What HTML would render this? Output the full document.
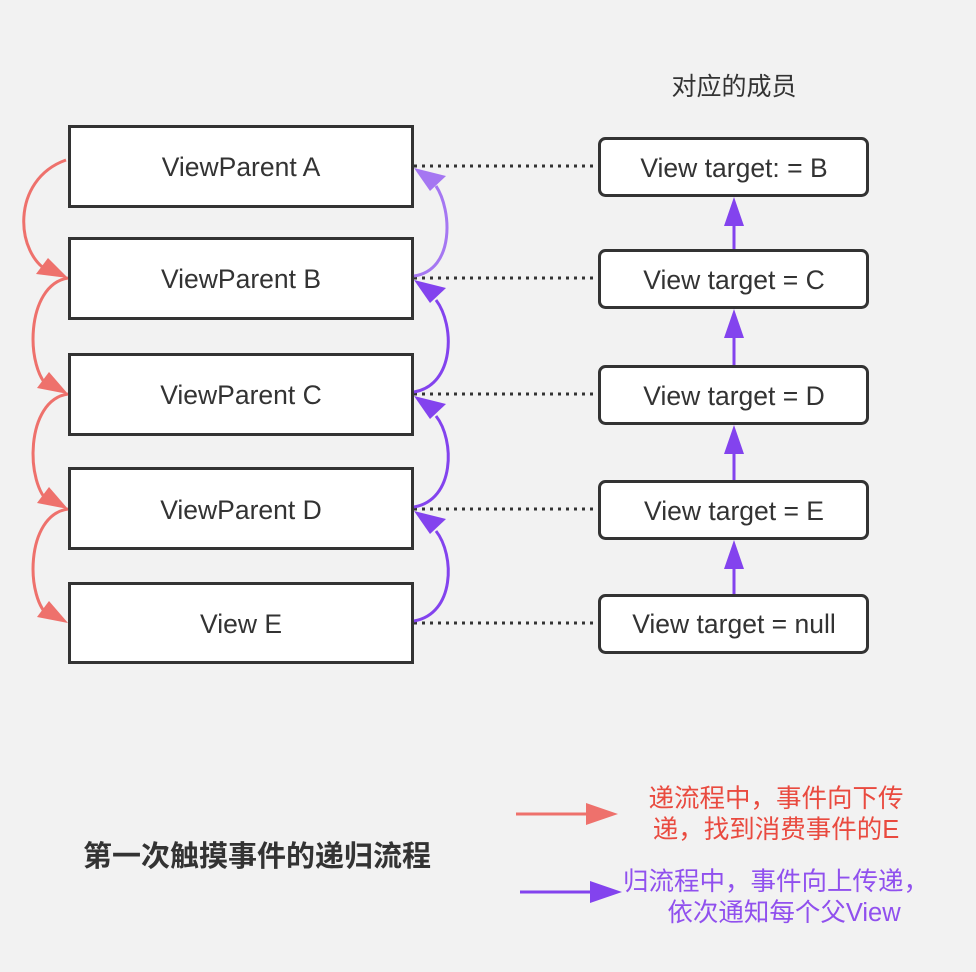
<!DOCTYPE html>
<html><head><meta charset="utf-8"><style>
body{margin:0;background:#f2f2f2;}
svg{display:block}
text{font-family:"Liberation Sans","Noto Sans CJK SC",sans-serif;}
</style></head><body>
<svg width="976" height="972" viewBox="0 0 976 972" xmlns="http://www.w3.org/2000/svg">
<rect width="976" height="972" fill="#f2f2f2"/>
<g stroke="#333" stroke-width="3" stroke-dasharray="3,5">
<line x1="414" y1="166" x2="598" y2="166"/>
<line x1="414" y1="278" x2="598" y2="278"/>
<line x1="414" y1="394" x2="598" y2="394"/>
<line x1="414" y1="509" x2="598" y2="509"/>
<line x1="414" y1="623" x2="598" y2="623"/>
</g>
<g fill="#fff" stroke="#333" stroke-width="3">
<rect x="69.5" y="126.5" width="343" height="80"/>
<rect x="69.5" y="238.5" width="343" height="80"/>
<rect x="69.5" y="354.5" width="343" height="80"/>
<rect x="69.5" y="468.5" width="343" height="80"/>
<rect x="69.5" y="583.5" width="343" height="79"/>
<rect x="599.5" y="138.5" width="268" height="57" rx="6"/>
<rect x="599.5" y="250.5" width="268" height="57" rx="6"/>
<rect x="599.5" y="366.5" width="268" height="57" rx="6"/>
<rect x="599.5" y="481.5" width="268" height="57" rx="6"/>
<rect x="599.5" y="595.5" width="268" height="57" rx="6"/>
</g>
<g font-size="26.5" fill="#333" text-anchor="middle">
<text x="241" y="176">ViewParent A</text>
<text x="241" y="288">ViewParent B</text>
<text x="241" y="404">ViewParent C</text>
<text x="241" y="519">ViewParent D</text>
<text x="241" y="633">View E</text>
<text x="734" y="177">View target: = B</text>
<text x="734" y="289">View target = C</text>
<text x="734" y="405">View target = D</text>
<text x="734" y="520">View target = E</text>
<text x="734" y="633">View target = null</text>
<text x="734" y="95" font-size="25">对应的成员</text>
</g>
<g fill="none" stroke="#ee716c" stroke-width="3">
<path d="M66,160 C10,180 15,255 50,272"/>
<path d="M68,278 C25,285 25,370 50,388"/>
<path d="M68,394 C25,400 25,485 50,503"/>
<path d="M68,509 C25,515 25,600 50,617"/>
</g>
<g fill="#ee716c">
<polygon points="68,278 36,274 48,258"/>
<polygon points="68,394 37,388 49,372"/>
<polygon points="68,509 37,503 49,487"/>
<polygon points="68,623 37,617 49,601"/>
</g>
<g fill="none" stroke-width="3">
<path d="M414,276 C455,270 452,210 436,186" stroke="#a577f2"/>
<path d="M414,392 C455,385 455,325 436,300" stroke="#8343ee"/>
<path d="M414,507 C455,500 455,440 436,416" stroke="#8343ee"/>
<path d="M414,621 C455,614 455,555 436,531" stroke="#8343ee"/>
</g>
<polygon points="414,168 446,176 430,191" fill="#a577f2"/>
<g fill="#8343ee">
<polygon points="414,280 446,288 430,303"/>
<polygon points="414,396 446,404 430,419"/>
<polygon points="414,511 446,519 430,534"/>
</g>
<g stroke="#8343ee" stroke-width="3">
<line x1="734" y1="249" x2="734" y2="220"/>
<line x1="734" y1="365" x2="734" y2="335"/>
<line x1="734" y1="480" x2="734" y2="450"/>
<line x1="734" y1="594" x2="734" y2="565"/>
</g>
<g fill="#8343ee">
<polygon points="734,197 724,226 744,226"/>
<polygon points="734,309 724,338 744,338"/>
<polygon points="734,425 724,454 744,454"/>
<polygon points="734,540 724,569 744,569"/>
</g>
<line x1="516" y1="814" x2="590" y2="814" stroke="#ee716c" stroke-width="3"/>
<polygon points="618,814 586,803 586,825" fill="#ee716c"/>
<line x1="520" y1="892" x2="595" y2="892" stroke="#8343ee" stroke-width="3"/>
<polygon points="622,892 590,881 590,903" fill="#8343ee"/>
<g font-size="25.5" text-anchor="middle">
<text x="776" y="807" fill="#e94a3f">递流程中，事件向下传</text>
<text x="776" y="838" fill="#e94a3f">递，找到消费事件的E</text>
<text x="776" y="890" fill="#9050ee">归流程中，事件向上传递，</text>
<text x="784" y="921" fill="#9050ee">依次通知每个父View</text>
</g>
<text x="257" y="866" font-size="29" font-weight="bold" fill="#333" text-anchor="middle">第一次触摸事件的递归流程</text>
</svg>
</body></html>
